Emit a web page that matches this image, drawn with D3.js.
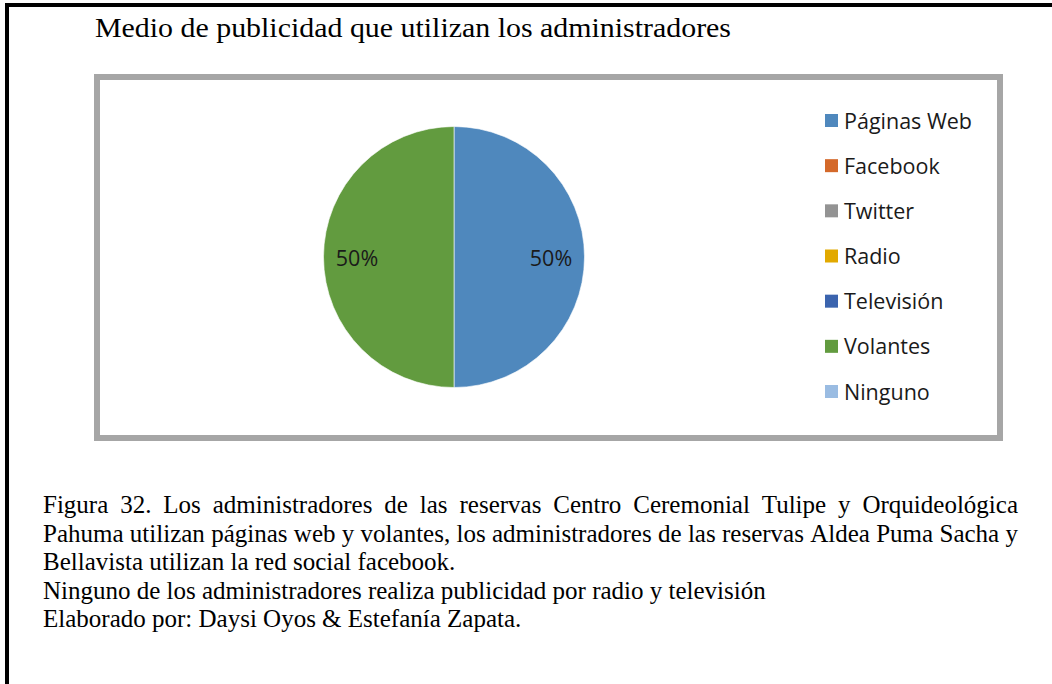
<!DOCTYPE html>
<html>
<head>
<meta charset="utf-8">
<script src="https://cdn.jsdelivr.net/npm/d3@7"></script>
<style>
  html, body { margin: 0; padding: 0; background: #fff; }
  svg { display: block; }
</style>
</head>
<body>
<svg id="chart" width="1052" height="684"></svg>
<script>
const title = "Medio de publicidad que utilizan los administradores";
const categories = ["Páginas Web", "Facebook", "Twitter", "Radio", "Televisión", "Volantes", "Ninguno"];
const values = [50, 0, 0, 0, 0, 50, 0];
const colors = ["#4f88bd", "#d4692a", "#939393", "#e2a900", "#3b64ae", "#629b3f", "#9abce2"];
const captionLines = [
  "Figura 32. Los administradores de las reservas Centro Ceremonial Tulipe y Orquideológica",
  "Pahuma utilizan páginas web y volantes, los administradores de las reservas Aldea Puma Sacha y",
  "Bellavista utilizan la red social facebook.",
  "Ninguno de los administradores realiza publicidad por radio y televisión",
  "Elaborado por: Daysi Oyos & Estefanía Zapata."
];
const justified = [true, true, false, false, false];

const svg = d3.select("#chart");

// outer page frame (top and left black lines)
svg.append("rect").attr("x", 5).attr("y", 3).attr("width", 1047).attr("height", 4).attr("fill", "#000");
svg.append("rect").attr("x", 5).attr("y", 3).attr("width", 4).attr("height", 681).attr("fill", "#000");

// title
svg.append("text")
  .attr("x", 95).attr("y", 37)
  .attr("font-family", "'Liberation Serif', 'Times New Roman', serif")
  .attr("font-size", 27)
  .attr("fill", "#000")
  .attr("textLength", 636)
  .attr("lengthAdjust", "spacingAndGlyphs")
  .text(title);

// chart box
svg.append("rect")
  .attr("x", 97).attr("y", 77).attr("width", 903).attr("height", 361)
  .attr("fill", "#fff").attr("stroke", "#a6a6a6").attr("stroke-width", 6);

// pie
const cx = 454, cy = 257, r = 130.5;
const pie = d3.pie().sort(null).value(d => d.value);
const data = categories.map((c, i) => ({ name: c, value: values[i], color: colors[i] }));
const arcs = pie(data);
const arc = d3.arc().innerRadius(0).outerRadius(r);
const labelArc = d3.arc().innerRadius(97).outerRadius(97);

const g = svg.append("g").attr("transform", `translate(${cx},${cy})`);
g.selectAll("path").data(arcs.filter(a => a.data.value > 0)).join("path")
  .attr("d", arc)
  .attr("fill", d => d.data.color)
  .attr("stroke", "#ffffff").attr("stroke-width", 0.6);

g.selectAll("text.lbl").data(arcs.filter(a => a.data.value > 0)).join("text")
  .attr("class", "lbl")
  .attr("x", d => labelArc.centroid(d)[0])
  .attr("y", d => labelArc.centroid(d)[1] + 9)
  .attr("text-anchor", "middle")
  .attr("font-family", "'Open Sans', 'DejaVu Sans', sans-serif")
  .attr("font-size", 21.5)
  .attr("fill", "#1a1a1a")
  .text(d => d3.format(".0%")(d.data.value / d3.sum(values)));

// legend
const ly = d3.scalePoint().domain(categories).range([121, 392]);
const leg = svg.append("g");
const items = leg.selectAll("g").data(data).join("g")
  .attr("transform", d => `translate(825,${ly(d.name)})`);
items.append("rect").attr("x", 0).attr("y", -7).attr("width", 13).attr("height", 13)
  .attr("fill", d => d.color);
items.append("text").attr("x", 19).attr("y", 7.5)
  .attr("font-family", "'Open Sans', 'DejaVu Sans', sans-serif")
  .attr("font-size", 21.5)
  .attr("fill", "#1a1a1a")
  .text(d => d.name);

// caption
const capY = d3.scaleLinear().domain([0, captionLines.length - 1]).range([513, 627]);
const cap = svg.append("g")
  .attr("font-family", "'Liberation Serif', 'Times New Roman', serif")
  .attr("font-size", 25)
  .attr("fill", "#000");
captionLines.forEach((line, i) => {
  const t = cap.append("text").attr("x", 43).attr("y", capY(i)).text(line);
  if (justified[i]) {
    // distribute words across the full width
    t.text(null);
    const words = line.split(" ");
    const tmp = [];
    let total = 0;
    words.forEach(w => {
      const ts = t.append("tspan").text(w);
      const wl = ts.node().getComputedTextLength();
      tmp.push({ ts, wl });
      total += wl;
    });
    const width = 1018 - 43;
    const gap = (width - total) / (words.length - 1);
    let x = 43;
    tmp.forEach(o => { o.ts.attr("x", x); x += o.wl + gap; });
  }
});
</script>
</body>
</html>
